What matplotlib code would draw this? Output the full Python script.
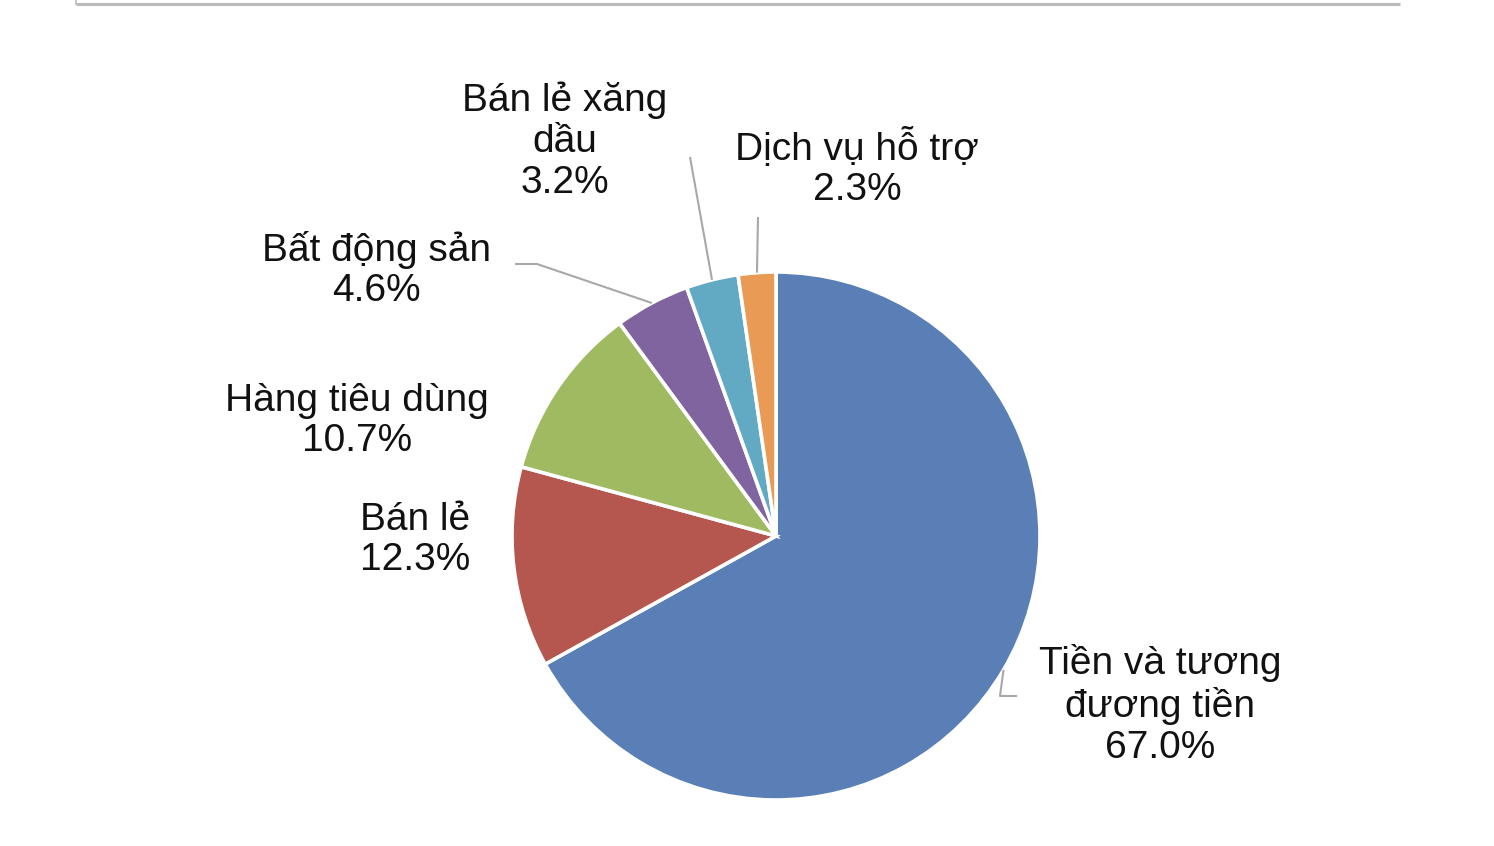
import numpy as np
import matplotlib
matplotlib.use("Agg")
import matplotlib.pyplot as plt

# data, clockwise from 12 o'clock
categories = ["Tiền và tương\nđương tiền", "Bán lẻ", "Hàng tiêu dùng",
              "Bất động sản", "Bán lẻ xăng\ndầu", "Dịch vụ hỗ trợ"]
shares = [67.0, 12.3, 10.7, 4.6, 3.2, 2.3]
colors = ["#5A7FB7", "#B5564F", "#A0BA62", "#7F64A0", "#62A9C4", "#E99B55"]

W, H = 1494, 846
plt.rcParams['font.family'] = ['Liberation Sans', 'DejaVu Sans']

fig = plt.figure(figsize=(W / 100, H / 100), dpi=100)
ax = fig.add_axes([0, 0, 1, 1])

def py(y):
    # pixel row (from top) -> data y
    return H - y

cx, cy, r = 776, py(536), 264
wedges, _ = ax.pie(shares, colors=colors, startangle=90, counterclock=False,
                   center=(cx, cy), radius=r,
                   wedgeprops=dict(edgecolor="white", linewidth=2.6))

# label layout (pixel centres) and leader elbows
label_pos = [(1160, 705), (415, 540), (357, 421), (376, 270), (565, 141), (857, 168)]
leaders = {0: [(1000, 696), (1017, 696)],
           3: [(537, 264), (515, 264)],
           4: [(690, 157)],
           5: [(758, 217)]}

for i, w in enumerate(wedges):
    x, y = label_pos[i]
    ax.text(x, py(y), f"{categories[i]}\n{shares[i]:.1f}%", ha="center", va="center",
            fontsize=28, color="#111111", linespacing=1.17)
    if i in leaders:
        mid = np.deg2rad((w.theta1 + w.theta2) / 2)
        xs = [cx + r * np.cos(mid)] + [p[0] for p in leaders[i]]
        ys = [cy + r * np.sin(mid)] + [py(p[1]) for p in leaders[i]]
        ax.plot(xs, ys, color="#A8A8A8", lw=1.5, solid_capstyle="butt")

# thin frame line at the top
ax.plot([76, 1400], [py(4), py(4)], color="#BBBBBB", lw=2.2, solid_capstyle="butt")
ax.plot([76, 76], [py(0), py(4)], color="#BBBBBB", lw=1.2)

ax.set_xlim(0, W)
ax.set_ylim(0, H)
ax.set_aspect("equal")
ax.axis("off")

fig.savefig("out.png", dpi=100)
